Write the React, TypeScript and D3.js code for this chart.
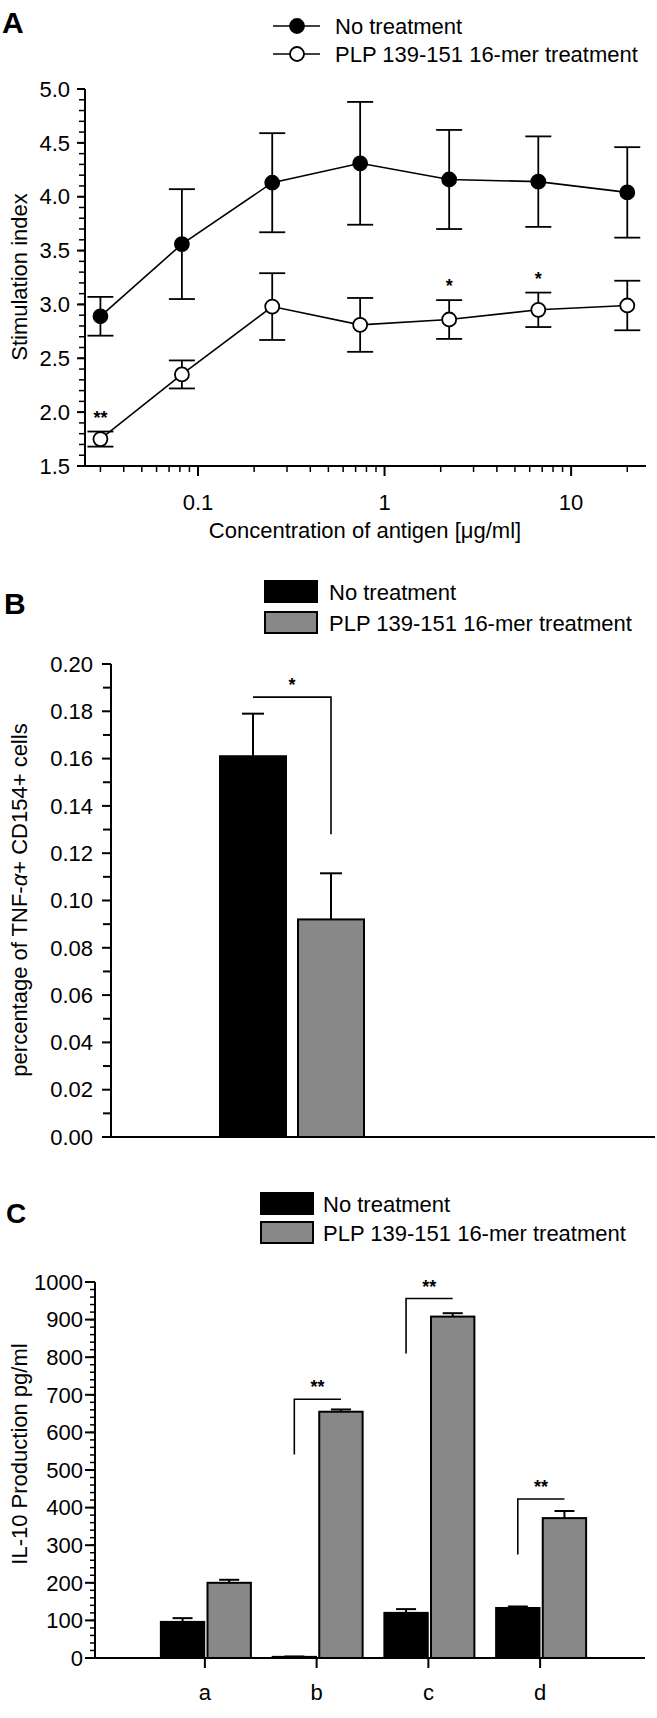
import React from "react";
import * as d3 from "d3";

// ---------- Panel A data ----------
const concA = [0.03, 0.082, 0.25, 0.74, 2.22, 6.67, 20];
const noTreatA = [2.89, 3.56, 4.13, 4.31, 4.16, 4.14, 4.04];
const noTreatErrA = [0.18, 0.51, 0.46, 0.57, 0.46, 0.42, 0.42];
const plpA = [1.75, 2.35, 2.98, 2.81, 2.86, 2.95, 2.99];
const plpErrA = [0.07, 0.13, 0.31, 0.25, 0.18, 0.16, 0.23];
const sigA = ["**", "", "", "", "*", "*", ""];
const yTicksA = [1.5, 2.0, 2.5, 3.0, 3.5, 4.0, 4.5, 5.0];
const xMajorA = [0.1, 1, 10];
const xMajorLabelsA = ["0.1", "1", "10"];
const xMinorA = [0.03, 0.04, 0.05, 0.06, 0.07, 0.08, 0.09, 0.2, 0.3, 0.4, 0.5, 0.6, 0.7, 0.8, 0.9, 2, 3, 4, 5, 6, 7, 8, 9, 20];

// ---------- Panel B data ----------
const seriesNames = ["No treatment", "PLP 139-151 16-mer treatment"];
const valuesB = [0.161, 0.092];
const errB = [0.018, 0.0195];
const yTicksB = [0, 0.02, 0.04, 0.06, 0.08, 0.1, 0.12, 0.14, 0.16, 0.18, 0.2];
const bracketB = { top: 0.186, bottom: 0.128, label: "*" };

// ---------- Panel C data ----------
const categoriesC = ["a", "b", "c", "d"];
const noTreatC = [96, 3, 120, 133];
const noTreatErrC = [10, 1, 10, 4];
const plpC = [200, 655, 908, 372];
const plpErrC = [8, 6, 9, 19];
const sigC = ["", "**", "**", "**"];
const bracketTopC = [0, 688, 956, 423];
const bracketBottomC = [0, 541, 810, 275];
const yTicksC = [0, 100, 200, 300, 400, 500, 600, 700, 800, 900, 1000];

const FONT = "Liberation Sans, Arial, Helvetica, sans-serif";
const GRAY = "#888888";

function PanelA() {
  const x = d3.scaleLog().domain([0.0248, 25.2]).range([85, 646]);
  const y = d3.scaleLinear().domain([1.5, 5]).range([466, 89]);
  const minorY = d3.range(15, 51).map((v) => v / 10);
  const line = d3
    .line<number>()
    .x((_, i) => x(concA[i]))
    .y((d) => y(d));
  const cap = 13;
  const fs = 22;
  const drawSeries = (vals: number[], errs: number[], filled: boolean) => (
    <g>
      <path d={line(vals) || ""} fill="none" stroke="#000" strokeWidth={1.6} />
      {vals.map((v, i) => (
        <g key={i}>
          <line x1={x(concA[i])} x2={x(concA[i])} y1={y(v + errs[i])} y2={y(v - errs[i])} stroke="#000" strokeWidth={1.8} />
          <line x1={x(concA[i]) - cap} x2={x(concA[i]) + cap} y1={y(v + errs[i])} y2={y(v + errs[i])} stroke="#000" strokeWidth={1.8} />
          <line x1={x(concA[i]) - cap} x2={x(concA[i]) + cap} y1={y(v - errs[i])} y2={y(v - errs[i])} stroke="#000" strokeWidth={1.8} />
          <circle cx={x(concA[i])} cy={y(v)} r={7} fill={filled ? "#000" : "#fff"} stroke="#000" strokeWidth={1.8} />
        </g>
      ))}
    </g>
  );
  return (
    <g fontFamily={FONT}>
      <text x={2} y={33} fontSize={30} fontWeight="bold">A</text>
      {/* legend */}
      {[0, 1].map((i) => (
        <g key={i} transform={`translate(0, ${26 + i * 28})`}>
          <line x1={273} x2={320} y1={0} y2={0} stroke="#000" strokeWidth={1.6} />
          <circle cx={297} cy={0} r={7} fill={i === 0 ? "#000" : "#fff"} stroke="#000" strokeWidth={1.8} />
          <text x={335} y={0} dy="0.35em" fontSize={fs}>{seriesNames[i]}</text>
        </g>
      ))}
      {/* axes */}
      <line x1={85} x2={85} y1={y(5)} y2={y(1.5)} stroke="#000" strokeWidth={2} />
      <line x1={85} x2={646} y1={y(1.5)} y2={y(1.5)} stroke="#000" strokeWidth={2} />
      {minorY.map((v) => (
        <line key={v} x1={79} x2={85} y1={y(v)} y2={y(v)} stroke="#000" strokeWidth={1.5} />
      ))}
      {yTicksA.map((v) => (
        <g key={v}>
          <line x1={77} x2={85} y1={y(v)} y2={y(v)} stroke="#000" strokeWidth={2} />
          <text x={70} y={y(v)} dy="0.35em" textAnchor="end" fontSize={fs}>{v.toFixed(1)}</text>
        </g>
      ))}
      {xMinorA.map((v) => (
        <line key={v} x1={x(v)} x2={x(v)} y1={466} y2={472} stroke="#000" strokeWidth={1.5} />
      ))}
      {xMajorA.map((v, i) => (
        <g key={v}>
          <line x1={x(v)} x2={x(v)} y1={466} y2={476} stroke="#000" strokeWidth={2} />
          <text x={x(v)} y={510} textAnchor="middle" fontSize={fs}>{xMajorLabelsA[i]}</text>
        </g>
      ))}
      <text x={365} y={538} textAnchor="middle" fontSize={fs}>Concentration of antigen [μg/ml]</text>
      <text transform={`translate(19, 277) rotate(-90)`} dy="0.35em" textAnchor="middle" fontSize={fs}>Stimulation index</text>
      {drawSeries(noTreatA, noTreatErrA, true)}
      {drawSeries(plpA, plpErrA, false)}
      {sigA.map((s, i) =>
        s ? (
          <text key={i} x={x(concA[i])} y={y(plpA[i] + plpErrA[i]) - 8} textAnchor="middle" fontSize={18} fontWeight="bold">{s}</text>
        ) : null
      )}
    </g>
  );
}

function PanelB() {
  const y = d3.scaleLinear().domain([0, 0.2]).range([1137, 664]);
  const x = d3.scaleBand().domain(seriesNames).range([220, 364]).paddingInner(0.154);
  const minor = d3.range(1, 20, 2).map((v) => v / 100);
  const fs = 22;
  const cx = (i: number) => (x(seriesNames[i]) as number) + x.bandwidth() / 2;
  const cap = 11;
  return (
    <g fontFamily={FONT}>
      <text x={4} y={614} fontSize={30} fontWeight="bold">B</text>
      {seriesNames.map((s, i) => (
        <g key={s}>
          <rect x={265} y={581 + i * 31} width={52} height={21} fill={i === 0 ? "#000" : GRAY} stroke="#000" strokeWidth={2} />
          <text x={329} y={592 + i * 31} dy="0.35em" fontSize={fs}>{s}</text>
        </g>
      ))}
      {valuesB.map((v, i) => (
        <g key={i}>
          <line x1={cx(i)} x2={cx(i)} y1={y(v)} y2={y(v + errB[i])} stroke="#000" strokeWidth={2} />
          <line x1={cx(i) - cap} x2={cx(i) + cap} y1={y(v + errB[i])} y2={y(v + errB[i])} stroke="#000" strokeWidth={2} />
          <rect x={x(seriesNames[i])} y={y(v)} width={x.bandwidth()} height={y(0) - y(v)} fill={i === 0 ? "#000" : GRAY} stroke="#000" strokeWidth={2} />
        </g>
      ))}
      {/* significance bracket */}
      <path d={`M${cx(0)},${y(bracketB.top)} H${cx(1)} V${y(bracketB.bottom)}`} fill="none" stroke="#000" strokeWidth={1.6} />
      <text x={(cx(0) + cx(1)) / 2} y={y(bracketB.top) - 6} textAnchor="middle" fontSize={18} fontWeight="bold">{bracketB.label}</text>
      {/* axes */}
      <line x1={111} x2={111} y1={y(0.2)} y2={y(0)} stroke="#000" strokeWidth={2} />
      <line x1={111} x2={655} y1={y(0)} y2={y(0)} stroke="#000" strokeWidth={2} />
      {minor.map((v) => (
        <line key={v} x1={103} x2={111} y1={y(v)} y2={y(v)} stroke="#000" strokeWidth={2} />
      ))}
      {yTicksB.map((v) => (
        <g key={v}>
          <line x1={102} x2={111} y1={y(v)} y2={y(v)} stroke="#000" strokeWidth={2} />
          <text x={93} y={y(v)} dy="0.35em" textAnchor="end" fontSize={fs}>{v.toFixed(2)}</text>
        </g>
      ))}
      <text transform={`translate(19, 900) rotate(-90)`} dy="0.35em" textAnchor="middle" fontSize={fs}>
        percentage of TNF-<tspan fontStyle="italic">α</tspan>+ CD154+ cells
      </text>
    </g>
  );
}

function PanelC() {
  const y = d3.scaleLinear().domain([0, 1000]).range([1658, 1282]);
  const x = d3.scaleBand().domain(categoriesC).range([149, 596]);
  const inner = d3.scaleBand().domain(seriesNames).range([-44, 46]).paddingInner(0.07);
  const minor = d3.range(0, 1001, 20);
  const fs = 22;
  const cat = (c: string) => (x(c) as number) + x.bandwidth() / 2;
  const cap = 10;
  const barX = (c: string, s: number) => cat(c) + (inner(seriesNames[s]) as number);
  const barC = (c: string, s: number) => barX(c, s) + inner.bandwidth() / 2;
  return (
    <g fontFamily={FONT}>
      <text x={6} y={1223} fontSize={28} fontWeight="bold">C</text>
      {seriesNames.map((s, i) => (
        <g key={s}>
          <rect x={261} y={1193 + i * 29} width={52} height={21} fill={i === 0 ? "#000" : GRAY} stroke="#000" strokeWidth={2} />
          <text x={323} y={1204 + i * 29} dy="0.35em" fontSize={fs}>{s}</text>
        </g>
      ))}
      {categoriesC.map((c, ci) => (
        <g key={c}>
          {[noTreatC, plpC].map((vals, s) => {
            const errs = s === 0 ? noTreatErrC : plpErrC;
            const v = vals[ci];
            return (
              <g key={s}>
                <line x1={barC(c, s)} x2={barC(c, s)} y1={y(v)} y2={y(v + errs[ci])} stroke="#000" strokeWidth={2} />
                <line x1={barC(c, s) - cap} x2={barC(c, s) + cap} y1={y(v + errs[ci])} y2={y(v + errs[ci])} stroke="#000" strokeWidth={2} />
                <rect x={barX(c, s)} y={y(v)} width={inner.bandwidth()} height={y(0) - y(v)} fill={s === 0 ? "#000" : GRAY} stroke="#000" strokeWidth={2} />
              </g>
            );
          })}
          {sigC[ci] ? (
            <g>
              <path d={`M${barC(c, 0)},${y(bracketBottomC[ci])} V${y(bracketTopC[ci])} H${barC(c, 1)}`} fill="none" stroke="#000" strokeWidth={1.6} />
              <text x={(barC(c, 0) + barC(c, 1)) / 2} y={y(bracketTopC[ci]) - 6} textAnchor="middle" fontSize={18} fontWeight="bold">{sigC[ci]}</text>
            </g>
          ) : null}
          <line x1={cat(c)} x2={cat(c)} y1={y(0)} y2={y(0) + 10} stroke="#000" strokeWidth={2} />
          <text x={cat(c)} y={1700} textAnchor="middle" fontSize={fs}>{c}</text>
        </g>
      ))}
      <line x1={95} x2={95} y1={y(1000)} y2={y(0)} stroke="#000" strokeWidth={2} />
      <line x1={95} x2={645} y1={y(0)} y2={y(0)} stroke="#000" strokeWidth={2} />
      {minor.map((v) => (
        <line key={v} x1={90} x2={95} y1={y(v)} y2={y(v)} stroke="#000" strokeWidth={1.5} />
      ))}
      {yTicksC.map((v) => (
        <g key={v}>
          <line x1={85} x2={95} y1={y(v)} y2={y(v)} stroke="#000" strokeWidth={2} />
          <text x={83} y={y(v)} dy="0.35em" textAnchor="end" fontSize={fs}>{v}</text>
        </g>
      ))}
      <text transform={`translate(19, 1454) rotate(-90)`} dy="0.35em" textAnchor="middle" fontSize={fs}>IL-10 Production pg/ml</text>
    </g>
  );
}

export default function App() {
  return (
    <>
      <style>{`body{margin:0}`}</style>
      <svg width={657} height={1718} viewBox="0 0 657 1718" style={{ display: "block", background: "#fff" }}>
        <rect width={657} height={1718} fill="#fff" />
        <PanelA />
        <PanelB />
        <PanelC />
      </svg>
    </>
  );
}
